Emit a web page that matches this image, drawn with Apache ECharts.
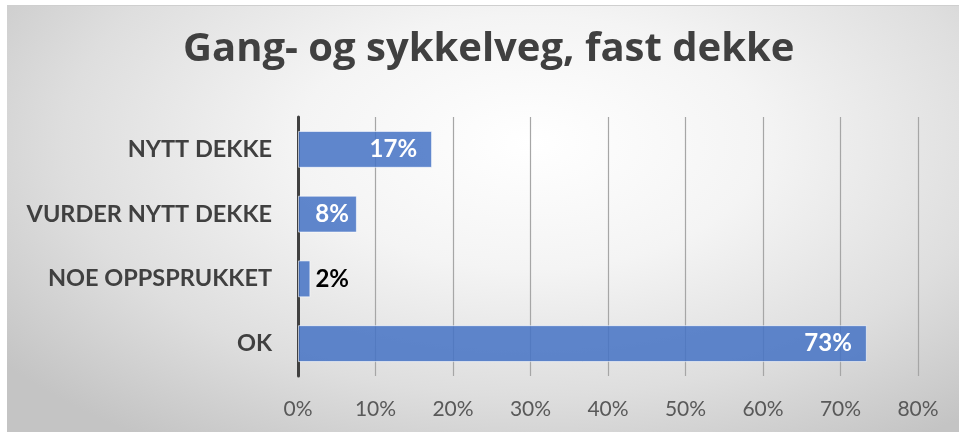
<!DOCTYPE html>
<html>
<head>
<meta charset="utf-8">
<script src="https://cdn.jsdelivr.net/npm/echarts@6/dist/echarts.min.js"></script>
<style>
  html, body { margin: 0; padding: 0; background: #ffffff; width: 959px; height: 432px; overflow: hidden; }
  #wrap { position: absolute; left: 7px; top: 5px; width: 952px; height: 427px;
    border-top: 1px solid #cfcfcf; box-sizing: border-box;
    background: radial-gradient(ellipse 70% 85% at 55% 32%, #ffffff 0%, #f4f4f4 35%, #dedede 70%, #c4c4c4 100%); }
  #chart { width: 952px; height: 426px; }
</style>
</head>
<body>
<div id="wrap"><div id="chart"></div></div>
<script>
const titleText = 'Gang- og sykkelveg, fast dekke';
const categories = ['NYTT DEKKE', 'VURDER NYTT DEKKE', 'NOE OPPSPRUKKET', 'OK'];
const values = [17.3, 7.6, 1.6, 73.4];
const axisMin = 0;
const axisMax = 80;
const axisStep = 10;

const chart = echarts.init(document.getElementById('chart'), null, { renderer: 'canvas' });

const seriesData = values.map(function (v, i) {
  const item = { value: v };
  if (v < 4) {
    item.label = { position: 'right', color: '#000000', distance: 5 };
  } else if (v < 10) {
    item.label = { position: 'insideRight', distance: 8 };
  }
  return item;
});

chart.setOption({
  backgroundColor: 'transparent',
  animation: false,
  title: {
    text: titleText,
    left: 176,
    top: 24,
    padding: 0,
    textStyle: { fontFamily: 'Open Sans', fontWeight: 'bold', fontSize: 40, color: '#404040' }
  },
  grid: { left: 291, right: 41, top: 111, bottom: 56, containLabel: false },
  xAxis: {
    type: 'value',
    min: axisMin,
    max: axisMax,
    interval: axisStep,
    axisLine: { show: false },
    axisTick: { show: false },
    axisLabel: {
      formatter: '{value}%',
      margin: 23,
      fontFamily: 'Lato',
      fontSize: 21,
      color: '#595959'
    },
    splitLine: { show: true, lineStyle: { color: '#a6a6a6', width: 1.2 } }
  },
  yAxis: {
    type: 'category',
    data: categories,
    inverse: true,
    axisLine: { show: true, lineStyle: { color: '#404040', width: 3 } },
    axisTick: { show: false },
    axisLabel: {
      margin: 26,
      fontFamily: 'Lato',
      fontWeight: 'bold',
      fontSize: 23.5,
      color: '#404040'
    }
  },
  series: [{
    type: 'bar',
    data: seriesData,
    barCategoryGap: '43%',
    itemStyle: { color: 'rgba(68,114,196,0.85)', borderColor: 'rgba(255,255,255,0.6)', borderWidth: 1 },
    label: {
      show: true,
      position: 'insideRight',
      distance: 15,
      formatter: function (p) { return Math.round(p.value) + '%'; },
      fontFamily: 'Lato',
      fontWeight: 'bold',
      fontSize: 24,
      color: '#ffffff'
    },
    z: 3
  }]
});
</script>
</body>
</html>
